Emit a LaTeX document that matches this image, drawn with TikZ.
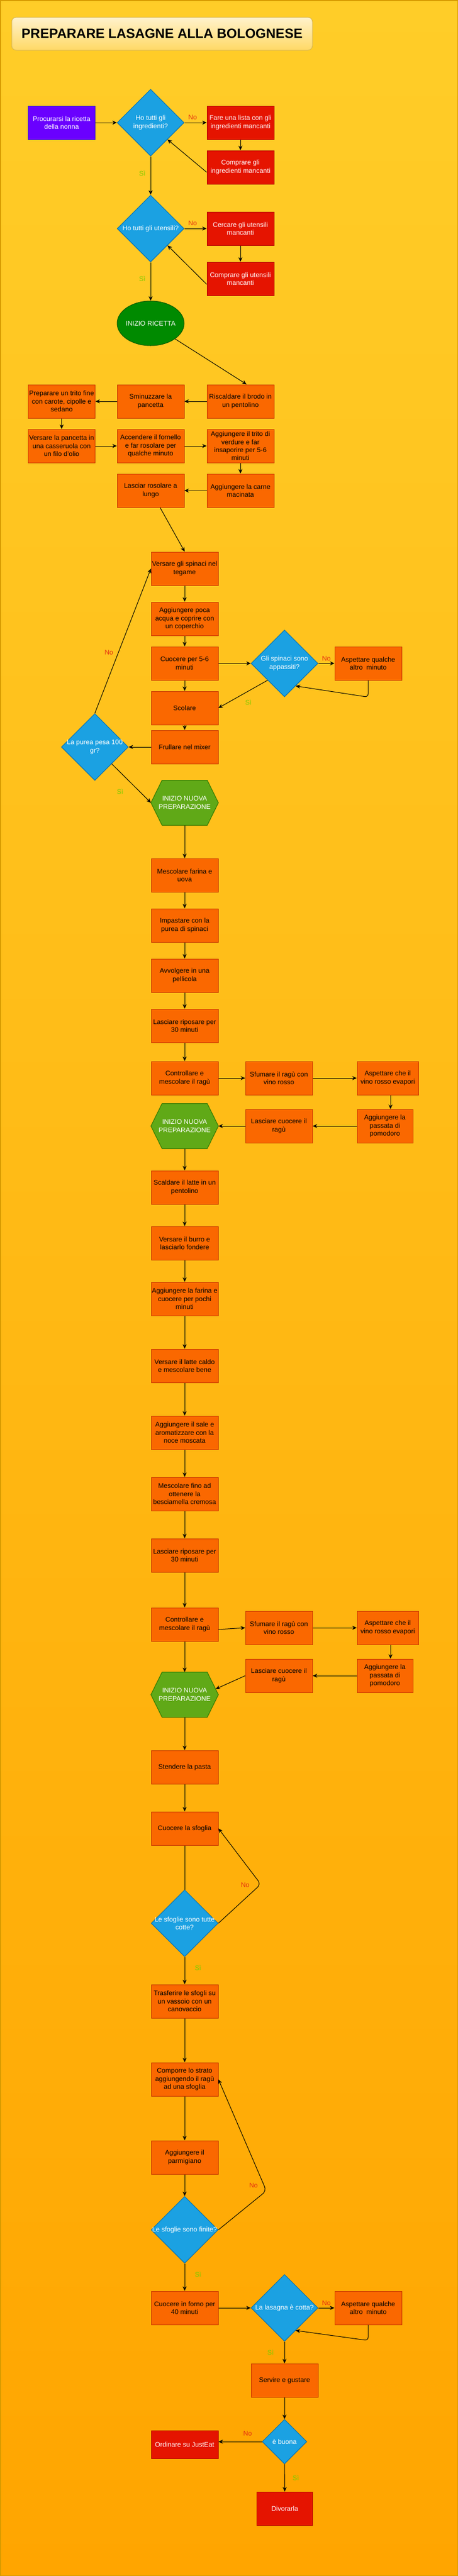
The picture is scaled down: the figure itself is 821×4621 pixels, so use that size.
\documentclass[tikz,border=0pt]{standalone}
\usepackage{fontspec}
\setmainfont{Liberation Sans}
\usetikzlibrary{shapes.geometric,arrows.meta,calc}
\definecolor{bgtop}{HTML}{FFCD28}
\definecolor{bgbot}{HTML}{FFA500}
\definecolor{bgline}{HTML}{D79B00}
\definecolor{orfill}{HTML}{FA6800}
\definecolor{ordraw}{HTML}{C73500}
\definecolor{rdfill}{HTML}{E51400}
\definecolor{rddraw}{HTML}{B20000}
\definecolor{bufill}{HTML}{1BA1E2}
\definecolor{budraw}{HTML}{006EAF}
\definecolor{gnfill}{HTML}{008A00}
\definecolor{gndraw}{HTML}{005700}
\definecolor{hxfill}{HTML}{60A917}
\definecolor{hxdraw}{HTML}{2D7600}
\definecolor{pufill}{HTML}{6A00FF}
\definecolor{pudraw}{HTML}{3700CC}
\definecolor{tifillA}{HTML}{FFF2CC}
\definecolor{tifillB}{HTML}{FFD966}
\definecolor{tidraw}{HTML}{D6B656}
\definecolor{nocol}{HTML}{E53012}
\definecolor{sicol}{HTML}{7FCC00}
\tikzset{
 base/.style={inner sep=0pt, align=center, font=\fontsize{12}{14.4}\selectfont, line width=1pt},
 obox/.style={base, rectangle, minimum width=120pt, minimum height=60pt, fill=orfill, draw=ordraw, text=black},
 rbox/.style={base, rectangle, minimum width=120pt, minimum height=60pt, fill=rdfill, draw=rddraw, text=white},
 dia/.style={base, diamond, minimum width=120pt, minimum height=120pt, fill=bufill, draw=budraw},
 dtxt/.style={base, text=white},
 hexbox/.style={base, rectangle, minimum width=120pt, minimum height=80pt},
 hexline/.style={fill=hxfill, draw=hxdraw, line width=1pt},
 conn/.style={draw=black, line width=1pt, -{Stealth[length=8pt,width=7pt,inset=2.5pt]}},
 plainline/.style={draw=black, line width=1pt},
 lno/.style={font=\fontsize{12}{14}\selectfont, text=nocol, inner sep=0pt},
 lsi/.style={font=\fontsize{12}{14}\selectfont, text=sicol, inner sep=0pt},
}
\begin{document}
\begin{tikzpicture}[x=1pt,y=-1pt]
\useasboundingbox (0,0) rectangle (821,4621);
\shade[top color=bgtop, bottom color=bgbot] (0,0) rectangle (821,4621);
\draw[bgline, line width=1.5pt] (0.75,0.75) rectangle (820.25,4620.25);

% title
\node[draw=tidraw, top color=tifillA, bottom color=tifillB, rounded corners=8pt, minimum width=539pt, minimum height=59pt, line width=1pt, inner sep=0pt, font=\fontsize{24}{28}\selectfont\bfseries] (title) at (290.5,60.5) {PREPARARE LASAGNE ALLA BOLOGNESE};

% ---------- start section
\node[rbox, fill=pufill, draw=pudraw] (proc) at (110.5,220) {Procurarsi la ricetta\\della nonna};
\node[dia] (d1) at (270,220) {};
\node[dtxt] (d1t) at (d1) {Ho tutti gli\\ingredienti?};
\node[rbox] (lista) at (431,220) {Fare una lista con gli\\ingredienti mancanti};
\node[rbox] (compIng) at (431,300) {Comprare gli\\ingredienti mancanti};
\node[dia] (d2) at (270,410) {};
\node[dtxt] (d2t) at (d2) {Ho tutti gli utensili?};
\node[rbox] (cercare) at (431,410) {Cercare gli utensili\\mancanti};
\node[rbox] (compUt) at (431,500) {Comprare gli utensili\\mancanti};
\node[base, ellipse, minimum width=120pt, minimum height=80pt, fill=gnfill, draw=gndraw] (start) at (270,580) {};
\node[dtxt] (startt) at (start) {INIZIO RICETTA};

% ---------- ragu
\node[obox] (risc) at (431,720) {Riscaldare il brodo in\\un pentolino};
\node[obox] (sminuz) at (270,720) {Sminuzzare la\\pancetta};
\node[obox] (trito) at (110.5,720) {Preparare un trito fine\\con carote, cipolle e\\sedano};
\node[obox] (verspanc) at (110.5,800) {Versare la pancetta in\\una casseruola con\\un filo d'olio};
\node[obox] (accendere) at (270,800) {Accendere il fornello\\e far rosolare per\\qualche minuto};
\node[obox] (aggtrito) at (431,800) {Aggiungere il trito di\\verdure e far\\insaporire per 5-6\\minuti};
\node[obox] (carne) at (431,880) {Aggiungere la carne\\macinata};
\node[obox] (rosolare) at (270,880) {Lasciar rosolare a\\lungo};

% ---------- spinaci
\node[obox] (versspin) at (331,1020) {Versare gli spinaci nel\\tegame};
\node[obox] (acqua) at (331,1110) {Aggiungere poca\\acqua e coprire con\\un coperchio};
\node[obox] (cuocere) at (331,1190) {Cuocere per 5-6\\minuti};
\node[dia] (d3) at (510,1190) {};
\node[dtxt] (d3t) at (d3) {Gli spinaci sono\\appassiti?};
\node[obox] (asp1) at (660,1190) {Aspettare qualche\\altro\ \ minuto};
\node[obox] (scolare) at (331,1270) {Scolare};
\node[obox] (frullare) at (331,1340) {Frullare nel mixer};
\node[dia] (d4) at (170,1340) {};
\node[dtxt] (d4t) at (d4) {La purea pesa 100\\gr?};
\node[hexbox] (hex1) at (331,1440) {};
\draw[hexline] (hex1.west) -- ($(hex1.north west)+(20,0)$) -- ($(hex1.north east)+(-20,0)$) -- (hex1.east) -- ($(hex1.south east)+(-20,0)$) -- ($(hex1.south west)+(20,0)$) -- cycle;
\node[dtxt] (hex1t) at (hex1) {INIZIO NUOVA\\PREPARAZIONE};

% ---------- pasta
\node[obox] (farina) at (331,1570) {Mescolare farina e\\uova};
\node[obox] (impastare) at (331,1660) {Impastare con la\\purea di spinaci};
\node[obox] (avvolgere) at (331,1750) {Avvolgere in una\\pellicola};
\node[obox] (riposo1) at (331,1840) {Lasciare riposare per\\30 minuti};
\node[obox] (ctrl1) at (331,1934) {Controllare e\\mescolare il ragù};
\node[obox] (sfum1) at (500,1934) {Sfumare il ragù con\\vino rosso};
\node[obox, minimum width=110pt] (evap1) at (695,1934) {Aspettare che il\\vino rosso evapori};
\node[obox, minimum width=100pt] (pass1) at (690,2020) {Aggiungere la\\passata di\\pomodoro};
\node[obox] (cuoc1) at (500,2020) {Lasciare cuocere il\\ragù};
\node[hexbox] (hex2) at (331,2020) {};
\draw[hexline] (hex2.west) -- ($(hex2.north west)+(20,0)$) -- ($(hex2.north east)+(-20,0)$) -- (hex2.east) -- ($(hex2.south east)+(-20,0)$) -- ($(hex2.south west)+(20,0)$) -- cycle;
\node[dtxt] (hex2t) at (hex2) {INIZIO NUOVA\\PREPARAZIONE};

% ---------- besciamella
\node[obox] (latte) at (331,2130) {Scaldare il latte in un\\pentolino};
\node[obox] (burro) at (331,2230) {Versare il burro e\\lasciarlo fondere};
\node[obox] (farina2) at (331,2330) {Aggiungere la farina e\\cuocere per pochi\\minuti};
\node[obox] (lattecaldo) at (331,2450) {Versare il latte caldo\\e mescolare bene};
\node[obox] (sale) at (331,2570) {Aggiungere il sale e\\aromatizzare con la\\noce moscata};
\node[obox] (cremosa) at (331,2680) {Mescolare fino ad\\ottenere la\\besciamella cremosa};
\node[obox] (riposo2) at (331,2790) {Lasciare riposare per\\30 minuti};
\node[obox] (ctrl2) at (331,2914) {Controllare e\\mescolare il ragù};
\node[obox] (sfum2) at (500,2920) {Sfumare il ragù con\\vino rosso};
\node[obox, minimum width=110pt] (evap2) at (695,2920) {Aspettare che il\\vino rosso evapori};
\node[obox, minimum width=100pt] (pass2) at (690,3006) {Aggiungere la\\passata di\\pomodoro};
\node[obox] (cuoc2) at (500,3006) {Lasciare cuocere il\\ragù};
\node[hexbox] (hex3) at (331,3040) {};
\draw[hexline] (hex3.west) -- ($(hex3.north west)+(20,0)$) -- ($(hex3.north east)+(-20,0)$) -- (hex3.east) -- ($(hex3.south east)+(-20,0)$) -- ($(hex3.south west)+(20,0)$) -- cycle;
\node[dtxt] (hex3t) at (hex3) {INIZIO NUOVA\\PREPARAZIONE};
\coordinate (hex3ne) at ($(hex3.north east)+(-20,0)$);

% ---------- assemblaggio
\node[obox] (stendere) at (331,3170) {Stendere la pasta};
\node[obox] (sfoglia) at (331,3280) {Cuocere la sfoglia};
\node[dia] (d5) at (331,3450) {};
\node[dtxt] (d5t) at (d5) {Le sfoglie sono tutte\\cotte?};
\node[obox] (trasf) at (331,3590) {Trasferire le sfogli su\\un vassoio con un\\canovaccio};
\node[obox] (comporre) at (331,3730) {Comporre lo strato\\aggiungendo il ragù\\ad una sfoglia};
\node[obox] (parm) at (331,3870) {Aggiungere il\\parmigiano};
\node[dia] (d6) at (331,4000) {};
\node[dtxt] (d6t) at (d6) {Le sfoglie sono finite?};
\node[obox] (forno) at (331,4140) {Cuocere in forno per\\40 minuti};
\node[dia] (d7) at (510,4140) {};
\node[dtxt] (d7t) at (d7) {La lasagna è cotta?};
\node[obox] (asp2) at (660,4140) {Aspettare qualche\\altro\ \ minuto};
\node[obox] (servire) at (510,4270) {Servire e gustare};
\node[dia, minimum width=80pt, minimum height=80pt] (d8) at (510,4380) {};
\node[dtxt] (d8t) at (d8) {è buona};
\node[rbox, minimum height=50pt] (ordinare) at (331,4385) {Ordinare su JustEat};
\node[rbox, minimum width=100pt] (divorarla) at (510.5,4500) {Divorarla};

% ---------- connectors: start section
\draw[conn] (proc) -- (d1);
\draw[conn] (d1) -- node[lno, pos=0.37, yshift=10pt]{No} (lista);
\draw[conn] (lista) -- (compIng);
\draw[conn] ($(compIng.west)+(0,9)$) -- (d1.south east);
\draw[conn] (d1) -- node[lsi, pos=0.44, xshift=-15pt]{Sì} (d2);
\draw[conn] (d2) -- node[lno, pos=0.37, yshift=10pt]{No} (cercare);
\draw[conn] (cercare) -- (compUt);
\draw[conn] ($(compUt.west)+(0,10)$) -- (d2.south east);
\draw[conn] (d2) -- node[lsi, pos=0.43, xshift=-15pt]{Sì} (start);
\draw[conn] (start) -- ($(risc.north)+(11,0)$);

% ragu
\draw[conn] (risc) -- (sminuz);
\draw[conn] (sminuz) -- (trito);
\draw[conn] (trito) -- (verspanc);
\draw[conn] (verspanc) -- (accendere);
\draw[conn] (accendere) -- (aggtrito);
\draw[conn] (aggtrito) -- (carne);
\draw[conn] (carne) -- (rosolare);
\draw[conn] (rosolare) -- (versspin.north);

% spinaci
\draw[conn] (versspin) -- (acqua);
\draw[conn] (acqua) -- (cuocere);
\draw[conn] (cuocere) -- (d3);
\draw[conn] (d3) -- node[lno, pos=0.5, yshift=9pt]{No} (asp1);
\coordinate (c3) at ($(asp1.south)+(0,30)$);
\draw[conn, rounded corners=6pt] (asp1.south) -- (c3) -- ($(d3.south)!0.33!(d3.east)$);
\draw[conn] (cuocere) -- (scolare);
\draw[conn] (d3.south west) -- node[lsi, pos=0.39, yshift=-20pt]{Sì} (scolare.east);
\draw[conn] (scolare) -- (frullare);
\draw[conn] (frullare) -- (d4);
\draw[conn] (d4.north) -- node[lno, pos=0.42, xshift=-17pt]{No} (versspin.west);
\draw[conn] (d4.south east) -- node[lsi, pos=0.5, xshift=-20pt, yshift=-15pt]{Sì} (hex1.west);

% pasta
\draw[conn] (hex1) -- (farina);
\draw[conn] (farina) -- (impastare);
\draw[conn] (impastare) -- (avvolgere);
\draw[conn] (avvolgere) -- (riposo1);
\draw[conn] (riposo1) -- (ctrl1);
\draw[conn] (ctrl1) -- (sfum1);
\draw[conn] (sfum1) -- (evap1);
\draw[conn] ($(evap1.south)+(5,0)$) -- ($(pass1.north)+(10,0)$);
\draw[conn] (pass1) -- (cuoc1);
\draw[conn] (cuoc1) -- (hex2);

% besciamella
\draw[conn] (hex2) -- (latte);
\draw[conn] (latte) -- (burro);
\draw[conn] (burro) -- (farina2);
\draw[conn] (farina2) -- (lattecaldo);
\draw[conn] (lattecaldo) -- (sale);
\draw[conn] (sale) -- (cremosa);
\draw[conn] (cremosa) -- (riposo2);
\draw[conn] (riposo2) -- (ctrl2);
\draw[conn] ($(ctrl2.east)+(0,9)$) -- (sfum2.west);
\draw[conn] (sfum2) -- (evap2);
\draw[conn] ($(evap2.south)+(5,0)$) -- ($(pass2.north)+(10,0)$);
\draw[conn] (pass2) -- (cuoc2);
\draw[conn] (cuoc2.west) -- ($(hex3ne)!0.75!(hex3.east)$);
\draw[conn] (ctrl2) -- (hex3);
\draw[conn] (hex3) -- (stendere);

% assemblaggio
\draw[conn] (stendere) -- (sfoglia);
\draw[plainline] (sfoglia) -- (d5);
\coordinate (c5) at ($(d5.east)+(76,-70)$);
\draw[conn, rounded corners=8pt] (d5.east) -- (c5) node[lno, xshift=-28pt, yshift=-1pt]{No} -- (sfoglia.east);
\draw[conn] (d5) -- node[lsi, pos=0.4, xshift=24pt]{Sì} (trasf);
\draw[conn] (trasf) -- (comporre);
\draw[conn] (comporre) -- (parm);
\draw[conn] (parm) -- (d6);
\coordinate (c6) at ($(d6.east)+(86,-70)$);
\draw[conn, rounded corners=8pt] (d6.east) -- (c6) node[lno, xshift=-23pt, yshift=10pt]{No} -- (comporre.east);
\draw[conn] (d6) -- node[lsi, pos=0.4, xshift=24pt]{Sì} (forno);
\draw[conn] (forno) -- (d7);
\draw[conn] (d7) -- node[lno, pos=0.5, yshift=9pt]{No} (asp2);
\coordinate (c7) at ($(asp2.south)+(0,28)$);
\draw[conn, rounded corners=6pt] (asp2.south) -- (c7) -- ($(d7.south)!0.33!(d7.east)$);
\draw[conn] (d7) -- node[lsi, pos=0.5, xshift=-25pt]{Sì} (servire);
\draw[conn] (servire) -- (d8);
\draw[conn] (d8.west) -- node[lno, pos=0.33, yshift=15pt]{No} (ordinare.east |- d8.west);
\draw[conn] (d8) -- node[lsi, pos=0.5, xshift=20pt]{Sì} (divorarla);
\end{tikzpicture}
\end{document}
